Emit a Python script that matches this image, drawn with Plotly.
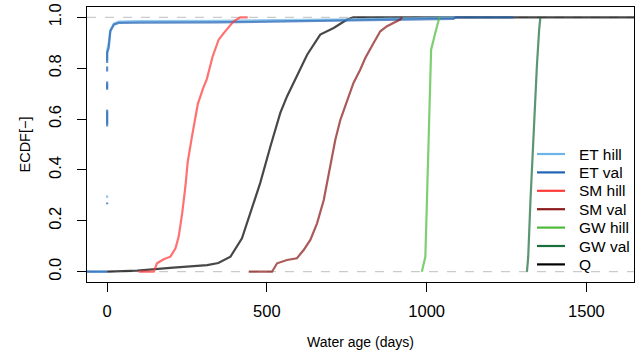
import plotly.graph_objects as go

# ---- data (age in days, ECDF value) ----
ET_HILL_AGE = [-100, 0, None, 0, 0, None, 0, 0, None, 0, 0, None, 0, 0, 5, 10, 21, 36, 100, 345, 763, 1084, 1090]
ET_HILL_ECDF = [0, 0, None, 0.29, 0.30, None, 0.58, 0.63, None, 0.72, 0.74, None, 0.83, 0.87, 0.90, 0.95, 0.975, 0.983, 0.985, 0.986, 0.992, 0.998, 1.0]

ET_VAL_AGE = [-100, 0, None, 0, 0, None, 0, 0, None, 0, 0, None, 0, 0, None, 0, 0, 5, 10, 21, 36, 100, 345, 763, 1084, 1090, 1272]
ET_VAL_ECDF = [0, 0, None, 0.265, 0.272, None, 0.571, 0.637, None, 0.715, 0.748, None, 0.787, 0.807, None, 0.82, 0.86, 0.88, 0.945, 0.971, 0.978, 0.979, 0.980, 0.988, 0.994, 1.0, 1.0]

SM_HILL_AGE = [98, 146, 156, 177, 198, 214, 224, 235, 245, 252, 266, 284, 300, 312, 330, 349, 365, 396, 417, 440]
SM_HILL_ECDF = [0, 0, 0.033, 0.049, 0.059, 0.092, 0.138, 0.23, 0.335, 0.43, 0.535, 0.66, 0.72, 0.757, 0.845, 0.912, 0.938, 0.984, 1.0, 1.0]

SM_VAL_AGE = [443, 516, 532, 563, 594, 615, 636, 657, 678, 698, 714, 730, 751, 771, 792, 808, 834, 855, 876, 896, 917, 923]
SM_VAL_ECDF = [0, 0, 0.033, 0.046, 0.053, 0.085, 0.125, 0.19, 0.282, 0.413, 0.518, 0.597, 0.676, 0.742, 0.794, 0.84, 0.899, 0.945, 0.965, 0.978, 0.991, 1.0]

GW_HILL_AGE = [985, 996, 1001, 1006, 1011, 1014, 1027, 1040]
GW_HILL_ECDF = [0, 0.059, 0.282, 0.518, 0.742, 0.873, 0.938, 1.0]

GW_VAL_AGE = [1314, 1318, 1325, 1334, 1345, 1352, 1356]
GW_VAL_ECDF = [0, 0.06, 0.282, 0.545, 0.807, 0.95, 1.0]

Q_AGE = [0, 94, 207, 313, 348, 386, 422, 448, 479, 511, 542, 563, 594, 626, 667, 709, 751, 770, 2000]
Q_ECDF = [0, 0.004, 0.016, 0.026, 0.034, 0.059, 0.131, 0.23, 0.348, 0.492, 0.624, 0.689, 0.768, 0.853, 0.932, 0.958, 0.991, 1.0, 1.0]

X_TICKS = [0, 500, 1000, 1500]
Y_TICKS = [0, 0.2, 0.4, 0.6, 0.8, 1.0]
Y_TICK_TEXT = ["0.0", "0.2", "0.4", "0.6", "0.8", "1.0"]

NAMES = ["ET hill", "ET val", "SM hill", "SM val", "GW hill", "GW val", "Q"]
COLORS = ["#6cb4e6", "#2163b4", "#ff3a3a", "#8b1a1a", "#4cbb3c", "#1b6e3b", "#000000"]
ALPHA = 0.72

SERIES = {
    "ET hill": (ET_HILL_AGE, ET_HILL_ECDF),
    "ET val": (ET_VAL_AGE, ET_VAL_ECDF),
    "SM hill": (SM_HILL_AGE, SM_HILL_ECDF),
    "SM val": (SM_VAL_AGE, SM_VAL_ECDF),
    "GW hill": (GW_HILL_AGE, GW_HILL_ECDF),
    "GW val": (GW_VAL_AGE, GW_VAL_ECDF),
    "Q": (Q_AGE, Q_ECDF),
}


def rgba(hex_color, a):
    h = hex_color.lstrip("#")
    r, g, b = int(h[0:2], 16), int(h[2:4], 16), int(h[4:6], 16)
    return f"rgba({r},{g},{b},{a})"


FONT = "Liberation Sans, Arial, Helvetica, sans-serif"
W, H = 637, 358
ML, MR, MT, MB = 87, 3, 7, 76
PW, PH = W - ML - MR, H - MT - MB

fig = go.Figure()

# draw order: Q underneath, then the rest
draw_order = ["Q", "ET hill", "ET val", "SM hill", "SM val", "GW hill", "GW val"]
for name in draw_order:
    x, y = SERIES[name]
    c = COLORS[NAMES.index(name)]
    fig.add_trace(go.Scatter(
        x=x, y=y, mode="lines", showlegend=False, hoverinfo="skip",
        line=dict(color=rgba(c, ALPHA), width=2.2), connectgaps=False,
    ))

# dashed reference lines at 0 and 1
for yv in (0, 1):
    fig.add_shape(type="line", xref="paper", x0=0, x1=1, yref="y", y0=yv, y1=yv,
                  line=dict(color="#bebebe", width=1, dash="dash"), layer="below")

# legend drawn inside the plot, bottom right (no box)
LEG_LINE_X0, LEG_LINE_X1, LEG_TEXT_X = 537, 565, 577
LEG_ROW0, LEG_STEP = 154, 18.4
for i, (name, c) in enumerate(zip(NAMES, COLORS)):
    py = LEG_ROW0 + i * LEG_STEP
    yp = 1 - (py - MT) / PH
    fig.add_shape(type="line", xref="paper", yref="paper",
                  x0=(LEG_LINE_X0 - ML) / PW, x1=(LEG_LINE_X1 - ML) / PW, y0=yp, y1=yp,
                  line=dict(color=c, width=2.2))
    fig.add_annotation(xref="paper", yref="paper", x=(LEG_TEXT_X - ML) / PW, y=yp,
                       text=name, showarrow=False, xanchor="left", yanchor="middle",
                       font=dict(size=15.5, family=FONT, color="black"))

fig.update_layout(
    width=W, height=H,
    margin=dict(l=ML, r=MR, t=MT, b=MB),
    paper_bgcolor="white", plot_bgcolor="white",
    font=dict(family=FONT, color="black", size=16),
    showlegend=False,
    xaxis=dict(
        range=[-63, 1649], tickvals=X_TICKS, ticks="outside", ticklen=9,
        tickwidth=1, tickcolor="black", ticklabelstandoff=5,
        showline=True, mirror=True, linecolor="black", linewidth=1,
        showgrid=False, zeroline=False,
        tickfont=dict(size=16.5, family=FONT),
        title=dict(text="Water age (days)", font=dict(size=14, family=FONT), standoff=18),
    ),
    yaxis=dict(
        range=[-0.0405, 1.0405], tickvals=Y_TICKS, ticktext=Y_TICK_TEXT,
        ticks="outside", ticklen=9, tickwidth=1, tickcolor="black",
        tickangle=-90, ticklabelstandoff=9,
        showline=True, mirror=True, linecolor="black", linewidth=1,
        showgrid=False, zeroline=False,
        tickfont=dict(size=16.5, family=FONT),
        title=dict(text="ECDF[−]", font=dict(size=14.5, family=FONT), standoff=12),
    ),
)

fig.write_html("out.html")
